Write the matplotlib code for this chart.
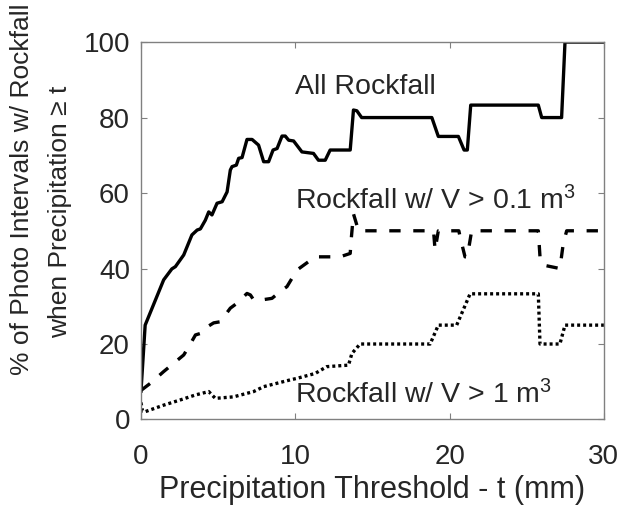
import numpy as np
import matplotlib
matplotlib.use("Agg")
import matplotlib.pyplot as plt

plt.rcParams['font.family'] = ['Liberation Sans', 'DejaVu Sans']
plt.rcParams['mathtext.fontset'] = 'custom'
plt.rcParams['mathtext.rm'] = 'Liberation Sans'
plt.rcParams['mathtext.it'] = 'Liberation Sans'

# All rockfall
all_x = [0.0, 0.27, 1.47, 2.0, 2.23, 2.77, 3.3, 3.64, 3.85, 4.17, 4.39, 4.6, 4.93,
         5.26, 5.58, 5.79, 5.9, 6.18, 6.33, 6.55, 6.87, 7.2, 7.62, 7.95, 8.27, 8.56,
         8.82, 9.14, 9.35, 9.57, 9.89, 10.43, 11.18, 11.5, 11.94, 12.26, 13.56, 13.77,
         13.99, 14.3, 18.85, 19.27, 20.57, 20.94, 21.15, 21.37, 25.75, 25.97, 27.26,
         27.48, 30.0]
all_y = [7.5, 25.0, 37.0, 39.9, 40.5, 43.6, 48.9, 50.2, 50.5, 52.8, 55.0, 54.2, 57.3,
         57.7, 60.3, 66.1, 67.0, 67.4, 69.2, 69.4, 74.2, 74.2, 72.7, 68.3, 68.3, 71.4,
         71.8, 75.1, 75.1, 74.0, 73.8, 70.9, 70.5, 68.7, 68.7, 71.4, 71.4, 82.0,
         81.8, 80.0, 80.0, 75.0, 75.0, 71.4, 71.4, 83.3, 83.3, 80.0, 80.0,
         100.0, 100.0]

# Rockfall with V > 0.1 m3
med_x = [0.0, 0.61, 1.47, 2.77, 3.1, 3.53, 3.85, 3.96, 4.71, 5.14, 5.79, 6.22, 6.87,
         7.09, 7.3, 7.84, 8.49, 9.14, 9.46, 10.11, 11.29, 12.9, 13.56, 13.62, 13.77,
         14.1, 18.96, 19.06, 19.27, 20.6, 20.68, 21.0, 21.15, 21.43, 25.75, 25.86,
         26.08, 27.15, 27.37, 27.59, 30.0]
med_y = [7.7, 9.6, 12.7, 17.1, 19.3, 22.4, 22.8, 23.7, 25.6, 25.9, 29.5, 30.8, 33.4,
         33.0, 31.7, 31.7, 32.1, 34.3, 35.2, 39.6, 43.1, 43.1, 44.0, 47.5, 54.5,
         50.0, 50.0, 44.9, 50.0, 50.0, 48.4, 43.1, 43.1, 50.0, 50.0, 43.1,
         40.9, 40.0, 46.7, 50.0, 50.0]

# Rockfall with V > 1 m3
big_x = [0.0, 0.1, 0.29, 1.47, 2.56, 3.53, 4.39, 4.6, 4.82, 6.0, 7.3, 7.95, 9.68,
         10.11, 11.29, 12.04, 13.45, 13.67, 14.2, 18.74, 19.27, 20.46, 21.33, 25.75,
         25.86, 27.15, 27.48, 30.0]
big_y = [4.5, 2.2, 2.1, 3.8, 5.2, 6.5, 7.4, 6.5, 5.6, 6.0, 7.4, 8.7, 10.5,
         10.9, 12.2, 14.0, 14.4, 17.5, 20.0, 20.0, 25.0, 25.0, 33.3, 33.3,
         20.0, 20.0, 25.0, 25.0]

fig = plt.figure(figsize=(6.2, 5.07), dpi=100)
ax = fig.add_axes([0.2274, 0.1726, 0.7466, 0.7444])

lw = 2.4
ax.plot(all_x, all_y, color="black", lw=lw, linestyle="-")
ax.plot(med_x, med_y, color="black", lw=lw, linestyle=(0, (3.4, 3.8)))
ax.plot(big_x, big_y, color="black", lw=lw, linestyle=(0, (0.9, 0.9)))

txt = "#262626"
fs = 20.5
ax.text(10.0, 88, "All Rockfall", fontsize=fs, color=txt, va="center", ha="left")
ax.text(10.0, 58, r"Rockfall w/ V > 0.1 m$^3$", fontsize=fs, color=txt, va="center", ha="left")
ax.text(10.0, 6.5, r"Rockfall w/ V > 1 m$^3$", fontsize=fs, color=txt, va="center", ha="left")

ax.set_xlim(0, 30)
ax.set_ylim(0, 100)
ax.set_xticks([0, 10, 20, 30])
ax.set_yticks([0, 20, 40, 60, 80, 100])
ax.tick_params(direction="in", length=4, width=0.8, color="#808080",
               labelsize=20, labelcolor=txt, top=True, right=True)
ax.tick_params(axis="x", pad=18)
ax.tick_params(axis="y", pad=8)
for s in ax.spines.values():
    s.set_color("#808080")
    s.set_linewidth(1.0)

ax.set_xlabel("Precipitation Threshold - t (mm)", fontsize=22, color=txt, labelpad=3)
fig.text(22 / 620, 1 - 189 / 507, "% of Photo Intervals w/ Rockfall", rotation=90,
         fontsize=19, color=txt, ha="center", va="center")
fig.text(60 / 620, 1 - 212 / 507, "when Precipitation \u2265 t", rotation=90,
         fontsize=19, color=txt, ha="center", va="center")

fig.savefig("out.png", dpi=100)
